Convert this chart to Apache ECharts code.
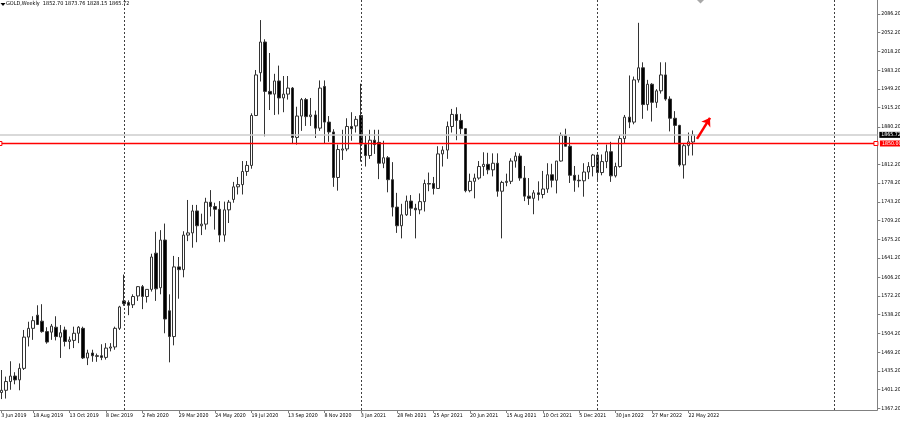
<!DOCTYPE html>
<html><head><meta charset="utf-8">
<script src="https://cdn.jsdelivr.net/npm/echarts@6/dist/echarts.min.js"></script>
<style>html,body{margin:0;padding:0;background:#fff}#c{width:900px;height:423px}</style>
</head><body><div id="c"></div>
<script>
const symbolName = 'GOLD,Weekly';
const firstWeekUTC = [2019, 5, 30];   // first visible weekly bar (30 Jun 2019)
const totalSlots = 193;               // weekly slots incl. empty future space

const opens = [
1396,1400,1416,1426,1419,1440,1497,1513,1537,1526,
1507,1506,1515,1497,1510,1489,1491,1504,1513,1459,
1468,1463,1463,1460,1477,1479,1513,1563,1560,1556,
1572,1589,1571,1584,1650,1587,1674,1545,1498,1625,
1620,1683,1687,1727,1700,1703,1743,1735,1730,1683,
1729,1748,1771,1775,1799,1810,1901,1979,2035,1945,
1940,1964,1933,1940,1951,1861,1900,1930,1899,1902,
1878,1954,1889,1871,1788,1838,1840,1881,1882,1901,
1848,1828,1856,1852,1814,1824,1784,1734,1700,1720,
1745,1732,1729,1744,1777,1777,1768,1831,1838,1881,
1903,1892,1877,1764,1781,1787,1808,1812,1802,1814,
1763,1779,1781,1818,1827,1787,1754,1750,1760,1757,
1767,1793,1783,1818,1865,1845,1792,1783,1782,1798,
1808,1829,1797,1817,1835,1791,1808,1859,1898,1889,
1966,1988,1921,1958,1925,1946,1975,1931,1896,1883,
1811,1846,1852.70];
const highs = [
1437,1425,1453,1433,1449,1510,1525,1535,1555,1557,
1515,1521,1535,1519,1516,1498,1516,1517,1516,1474,
1474,1467,1484,1486,1486,1516,1554,1611,1564,1575,
1590,1592,1584,1649,1689,1692,1704,1575,1645,1643,
1690,1747,1738,1738,1722,1751,1765,1742,1745,1744,
1747,1780,1789,1818,1818,1905,1984,2075,2040,2015,
1977,1992,1973,1973,1953,1917,1933,1933,1933,1910,
1965,1965,1900,1876,1848,1875,1896,1907,1900,1959,
1864,1875,1875,1875,1855,1827,1816,1760,1740,1755,
1756,1740,1759,1784,1797,1789,1845,1845,1890,1913,
1916,1904,1878,1795,1795,1818,1834,1833,1832,1832,
1782,1795,1823,1834,1832,1809,1787,1765,1781,1800,
1814,1813,1818,1870,1877,1862,1809,1793,1814,1816,
1831,1831,1830,1848,1853,1815,1865,1902,1974,1972,
2070,1998,1966,1960,1949,1998,1998,1936,1909,1884,
1849,1870,1873.76];
const lows = [
1384,1385,1401,1411,1400,1437,1480,1492,1519,1505,
1485,1492,1491,1459,1480,1475,1477,1486,1457,1446,
1452,1452,1455,1456,1471,1474,1510,1554,1537,1550,
1563,1548,1560,1580,1563,1575,1504,1451,1482,1567,
1606,1672,1660,1670,1683,1693,1717,1693,1670,1671,
1705,1742,1757,1757,1791,1804,1900,1963,1863,1911,
1902,1903,1907,1930,1849,1848,1873,1882,1882,1860,
1873,1850,1853,1771,1764,1820,1836,1855,1870,1817,
1808,1822,1831,1785,1805,1761,1717,1687,1677,1718,
1718,1677,1721,1726,1763,1757,1768,1808,1822,1870,
1856,1867,1761,1761,1750,1784,1791,1794,1790,1753,
1677,1772,1776,1806,1782,1745,1738,1721,1746,1750,
1760,1770,1759,1817,1845,1778,1762,1770,1753,1785,
1790,1782,1792,1805,1780,1788,1806,1851,1878,1885,
1961,1895,1910,1890,1915,1941,1928,1872,1850,1808,
1786,1828,1828.15];
const closes = [
1400,1416,1426,1419,1440,1497,1513,1527,1520,1507,
1488,1517,1498,1505,1489,1492,1504,1515,1459,1468,
1463,1462,1460,1477,1479,1513,1552,1558,1555,1571,
1589,1571,1584,1643,1585,1674,1530,1498,1625,1620,
1683,1687,1727,1700,1703,1743,1735,1730,1683,1729,
1743,1771,1775,1799,1810,1901,1975,2035,1945,1940,
1964,1933,1940,1951,1861,1900,1930,1899,1902,1878,
1951,1889,1871,1788,1839,1840,1881,1877,1894,1849,
1828,1856,1848,1814,1824,1784,1734,1700,1720,1745,
1732,1729,1744,1777,1776,1768,1831,1838,1881,1903,
1892,1877,1764,1781,1787,1808,1812,1802,1814,1763,
1779,1781,1818,1827,1787,1754,1750,1760,1757,1767,
1793,1783,1818,1865,1845,1792,1783,1782,1798,1808,
1829,1797,1817,1835,1791,1808,1859,1898,1889,1966,
1988,1921,1958,1925,1946,1975,1931,1896,1883,1811,
1846,1853,1865.72];

const xTickLabels = ['3 Jun 2019','18 Aug 2019','13 Oct 2019','8 Dec 2019','2 Feb 2020','29 Mar 2020',
  '24 May 2020','19 Jul 2020','13 Sep 2020','8 Nov 2020','3 Jan 2021','28 Feb 2021','25 Apr 2021',
  '20 Jun 2021','15 Aug 2021','10 Oct 2021','5 Dec 2021','30 Jan 2022','27 Mar 2022','22 May 2022'];
const yTickLabels = [2086.2,2052.2,2018.2,1983.2,1949.2,1915.2,1880.2,1812.2,1778.2,1743.2,1709.2,
  1675.2,1641.2,1606.2,1572.2,1538.2,1504.2,1469.2,1435.2,1401.2,1367.2];
const yearSeparators = ['5 Jan 2020','3 Jan 2021','2 Jan 2022','1 Jan 2023'];
const levelPrice = 1850.00;
const levelSpan = [-0.3, 192.2];     // horizontal level drawn across the whole plot (x index units)
const arrowFrom = [152.88, 1858.4];
const arrowTo = [155.74, 1896.7];

// pick a narrow installed font and size it so that "2086.20" is about 19.5 px wide
const measureCtx = document.createElement('canvas').getContext('2d');
function pickFont() {
  const probe = '2086.20 Aug Weekly';
  measureCtx.font = '40px monospace';
  const base = measureCtx.measureText(probe).width;
  const list = ['Liberation Sans Narrow', 'DejaVu Sans Condensed', 'Liberation Sans', 'DejaVu Sans'];
  for (const f of list) {
    measureCtx.font = '40px "' + f + '", monospace';
    if (Math.abs(measureCtx.measureText(probe).width - base) > 0.5 || f === 'DejaVu Sans') {
      const w = measureCtx.measureText('2086.20').width;
      return {family: '"' + f + '",sans-serif', size: Math.max(5.2, Math.min(7.5, 40 * 19.5 / w))};
    }
  }
}
const pf = pickFont();
const FONT = pf.family, FS = pf.size;

const months = ['Jan','Feb','Mar','Apr','May','Jun','Jul','Aug','Sep','Oct','Nov','Dec'];
const cats = [];
const t0 = Date.UTC(firstWeekUTC[0], firstWeekUTC[1], firstWeekUTC[2]);
for (let i = 0; i < totalSlots; i++) {
  const d = new Date(t0 + i * 7 * 86400000);
  cats.push(d.getUTCDate() + ' ' + months[d.getUTCMonth()] + ' ' + d.getUTCFullYear());
}
const tickSet = new Set(xTickLabels.slice(1));
const showTick = (i) => i === 0 || tickSet.has(cats[i]);
const candles = opens.map((o, i) => [o, closes[i], lows[i], highs[i]]);
const last = opens.length - 1;
const bidPrice = closes[last];
const header = symbolName + '  ' + [opens[last], highs[last], lows[last], closes[last]].map(v => v.toFixed(2)).join(' ');
measureCtx.font = '40px ' + FONT;
const HFS = Math.max(5.5, Math.min(8, 40 * 108 / measureCtx.measureText(header).width));

const chart = echarts.init(document.getElementById('c'), null, {renderer: 'canvas'});
chart.setOption({
  animation: false,
  backgroundColor: '#ffffff',
  grid: {left: -1, top: 0, width: 878.3, height: 410, containLabel: false, outerBoundsMode: 'none'},
  xAxis: [{
    type: 'category', data: cats, boundaryGap: true,
    axisLine: {show: true, onZero: false, lineStyle: {color: '#808080', width: 1}},
    axisTick: {show: true, interval: (i) => showTick(i), alignWithLabel: true, length: 3, lineStyle: {color: '#808080'}},
    axisLabel: {interval: (i) => showTick(i), formatter: (v, i) => i === 0 ? xTickLabels[0] : v,
      hideOverlap: false, showMinLabel: true, showMaxLabel: true,
      align: 'left', margin: 3, fontSize: FS, fontFamily: FONT, color: '#000'},
    splitLine: {show: false}
  }, {
    type: 'value', min: -0.5, max: totalSlots - 0.5, show: false,
    axisLine: {show: false, onZero: false}, splitLine: {show: false}
  }],
  yAxis: {
    type: 'value', position: 'right', min: 1364.1, max: 2111.6, scale: true,
    axisLine: {show: true, onZero: false, lineStyle: {color: '#808080', width: 1}},
    axisTick: {show: true, customValues: yTickLabels, length: 3, lineStyle: {color: '#808080'}},
    axisLabel: {customValues: yTickLabels, formatter: (v) => v.toFixed(2), margin: 4, hideOverlap: false,
      fontSize: FS, fontFamily: FONT, color: '#000'},
    splitLine: {show: false}
  },
  graphic: [
    {type: 'polygon', shape: {points: [[0.5, 3], [5.5, 3], [3, 6]]}, style: {fill: '#000'}},
    {type: 'text', left: 6, top: 1, style: {text: header, font: HFS + 'px ' + FONT, fill: '#000'}},
    {type: 'polygon', shape: {points: [[697, 0], [704, 0], [700.5, 3.5]]}, style: {fill: '#a8a8a8'}}
  ],
  series: [{
    type: 'candlestick', xAxisIndex: 0, yAxisIndex: 0, data: candles, barWidth: 3,
    itemStyle: {color: '#ffffff', color0: '#000000', borderColor: '#333333', borderColor0: '#333333', borderWidth: 1},
    markLine: {
      silent: true, symbol: 'none', animation: false,
      data: [
        ...yearSeparators.map(s => ({xAxis: s, lineStyle: {type: [2, 2], color: '#404040', width: 1}, label: {show: false}})),
        {yAxis: bidPrice, lineStyle: {type: 'solid', color: '#cccccc', width: 1.5},
          label: {show: true, position: 'end', distance: 2, formatter: bidPrice.toFixed(2), color: '#fff',
            backgroundColor: '#000', padding: [1, 2, 0, 2], fontSize: FS, fontFamily: FONT}}
      ]
    }
  }, {
    // horizontal 1850 level
    type: 'line', xAxisIndex: 1, yAxisIndex: 0, silent: true, z: 4,
    data: levelSpan.map(x => [x, levelPrice]),
    symbol: 'rect', symbolSize: 4, showSymbol: true, clip: false,
    itemStyle: {color: '#ffffff', borderColor: '#ff0000', borderWidth: 1},
    lineStyle: {color: '#ff0000', width: 1.6, type: 'solid'},
    endLabel: {show: true, formatter: levelPrice.toFixed(2), distance: 4, color: '#fff',
      backgroundColor: '#ff0000', padding: [1, 2, 0, 2], fontSize: FS, fontFamily: FONT}
  }, {
    // annotation arrow
    type: 'line', xAxisIndex: 1, yAxisIndex: 0, data: [], silent: true, z: 5,
    markLine: {
      silent: true, symbol: ['none', 'arrow'], symbolSize: 8, animation: false,
      lineStyle: {color: '#ff0000', width: 2.5, type: 'solid'}, label: {show: false},
      data: [[{coord: arrowFrom}, {coord: arrowTo}]]
    }
  }]
});
</script>
</body></html>
